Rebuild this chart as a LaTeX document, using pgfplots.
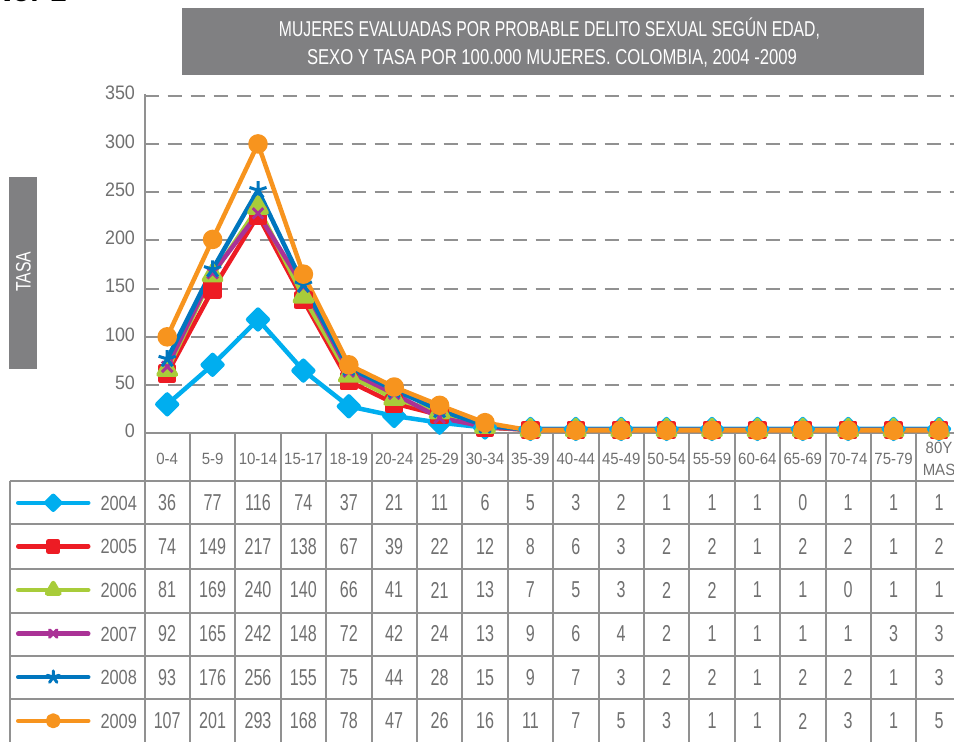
\documentclass[border=0pt]{standalone}
\usepackage{graphicx}
\usepackage{pgfplots}
\pgfplotsset{compat=1.18}
\usepackage{pgfplotstable}
\usepackage{fontspec}
\setmainfont{Liberation Sans}
\newfontfamily\fNum{Liberation Sans}[FakeStretch=0.70]
\newfontfamily\fLeg{Liberation Sans}[FakeStretch=0.80]
\newfontfamily\fTick{Liberation Sans}[FakeStretch=0.92]

\definecolor{cA}{RGB}{0,174,239}
\definecolor{cB}{RGB}{237,28,36}
\definecolor{cC}{RGB}{168,204,58}
\definecolor{cD}{RGB}{170,50,150}
\definecolor{cE}{RGB}{0,118,190}
\definecolor{cF}{RGB}{247,148,30}
\definecolor{txt}{RGB}{112,112,112}
\definecolor{rule}{RGB}{145,145,145}
\definecolor{boxg}{RGB}{128,128,130}

% values as drawn in the chart (x = age group index)
\pgfplotstableread{
x   y04  y05  y06  y07  y08  y09
0   30   62   66   69   77   100
1   71   149  164  166  170  201
2   118  226  234  228  252  300
3   65   138  142  152  154  165
4   28   54   60   64   68   71
5   18   31   36   41   45   48
6   11   19   22   16   24   29
7   6    6    7    7    8    11
8   4.5  3.5  3.5  3.5  3.5  3
9   4.5  3.5  3.5  3.5  3.5  3
10  4.5  3.5  3.5  3.5  3.5  3
11  4.5  3.5  3.5  3.5  3.5  3
12  4.5  3.5  3.5  3.5  3.5  3
13  4.5  3.5  3.5  3.5  3.5  3
14  4.5  3.5  3.5  3.5  3.5  3
15  4.5  3.5  3.5  3.5  3.5  3
16  4.5  3.5  3.5  3.5  3.5  3
17  4.5  3.5  3.5  3.5  3.5  3
}\plotdata

\begin{document}
\begin{tikzpicture}
\useasboundingbox (0pt,0pt) rectangle (954pt,742pt);
\clip (0pt,0pt) rectangle (954pt,742pt);

\begin{scope}[x=1pt,y=1pt]
% heading
\node[anchor=base east, font=\bfseries\fontsize{30}{30}\selectfont] at (70,740) {No. 1};
\fill[boxg] (182,667.3) rectangle (924,734);
\node[anchor=base, text=white, font=\fontsize{21.5}{24}\selectfont, inner sep=0pt] at (549.5,705.3)
  {\resizebox{541pt}{\height}{MUJERES EVALUADAS POR PROBABLE DELITO SEXUAL SEGÚN EDAD,}};
\node[anchor=base, text=white, font=\fontsize{21.5}{24}\selectfont, inner sep=0pt] at (552,677.7)
  {\resizebox{490pt}{\height}{SEXO Y TASA POR 100.000 MUJERES. COLOMBIA, 2004 -2009}};

% y title box
\fill[boxg] (9,373.3) rectangle (36.7,565.3);
\node[rotate=90, text=white, font=\fontsize{21}{24}\selectfont, inner sep=0pt] at (23.5,470.3)
  {\resizebox{40pt}{\height}{TASA}};

% table rules
\draw[rule, line width=2pt] (144.5,648) -- (144.5,0);
\draw[rule, line width=2pt] (9.5,261) -- (9.5,0);
\draw[rule, line width=2pt] (144.5,308.7) -- (954,308.7);
\foreach \yy in {261,217.7,173.3,129.3,86,42.7}
  \draw[rule, line width=2pt] (9.5,\yy) -- (954,\yy);
\foreach \k in {1,...,18}
  \draw[rule, line width=2pt] ({144.5+\k*45.4},308.7) -- ({144.5+\k*45.4},0);

% table values
\foreach \vals [count=\r from 0] in {
  {36,77,116,74,37,21,11,6,5,3,2,1,1,1,0,1,1,1},
  {74,149,217,138,67,39,22,12,8,6,3,2,2,1,2,2,1,2},
  {81,169,240,140,66,41,21,13,7,5,3,2,2,1,1,0,1,1},
  {92,165,242,148,72,42,24,13,9,6,4,2,1,1,1,1,3,3},
  {93,176,256,155,75,44,28,15,9,7,3,2,2,1,2,2,1,3},
  {107,201,293,168,78,47,26,16,11,7,5,3,1,1,2,3,1,5}}
  \foreach \v [count=\c from 0] in \vals
    \node[text=txt, font=\fNum\fontsize{23}{23}\selectfont, inner sep=0pt]
      at ({144.5+(\c+0.5)*45.4},{239.3-\r*43.66}) {\v};
\end{scope}

\begin{axis}[
  at={(144.5pt,308.7pt)}, anchor=south west,
  scale only axis, width=817.2pt, height=337.6pt,
  xmin=-0.5, xmax=17.5, ymin=0, ymax=350,
  axis line style={draw=none},
  major tick length=0pt,
  ytick={0,50,...,350},
  yticklabels={0,50,100,150,200,250,300,350},
  yticklabel style={text=txt, font=\fTick\fontsize{19.5}{20}\selectfont, xshift=-6pt, yshift=2.5pt},
  ymajorgrids,
  grid style={rule, line width=2pt, dash pattern=on 14pt off 9pt},
  xtick={0,...,17},
  xticklabels={0-4,5-9,10-14,15-17,18-19,20-24,25-29,30-34,35-39,40-44,45-49,50-54,55-59,60-64,65-69,70-74,75-79,{80Y\\MAS}},
  xticklabel style={text=txt, font=\fTick\fontsize{16.3}{21.7}\selectfont, anchor=center, align=center, yshift=-25.7pt},
  every axis plot/.append style={line width=4.5pt, line join=round},
  clip=false,
  legend image code/.code={
    \draw[mark repeat=2, mark phase=2, line cap=round, /tikz/every mark/.append style={scale=0.7}]
      plot coordinates {(0pt,0pt) (35pt,0pt) (70pt,0pt)};
  },
  legend style={draw=none, fill=none, inner sep=0pt, outer sep=0pt,
    at={(-0.15724,-0.14129)}, anchor=north west,
    row sep=0pt, column sep=10pt,
    font=\fLeg\fontsize{20.5}{21}\selectfont, text=txt,
    nodes={inner sep=0pt, text height=15pt, text depth=0pt, minimum height=43.6pt}},
]
\addplot[cA, mark=square*, mark size=7pt, mark options={rotate=45, solid}] table[x=x, y=y04] {\plotdata};
\addplot[cB, mark=square*, mark size=7pt, mark options={solid}] table[x=x, y=y05] {\plotdata};
\addplot[cC, mark=triangle*, mark size=10pt, mark options={solid}] table[x=x, y=y06] {\plotdata};
\addplot[cD, mark=x, mark size=7.5pt, mark options={solid, line width=3pt}] table[x=x, y=y07] {\plotdata};
\addplot[cE, mark=star, mark size=9pt, mark options={solid, line width=3pt}] table[x=x, y=y08] {\plotdata};
\addplot[cF, mark=*, mark size=7.5pt, mark options={solid}] table[x=x, y=y09] {\plotdata};
\legend{2004,2005,2006,2007,2008,2009}
\end{axis}
\end{tikzpicture}
\end{document}
